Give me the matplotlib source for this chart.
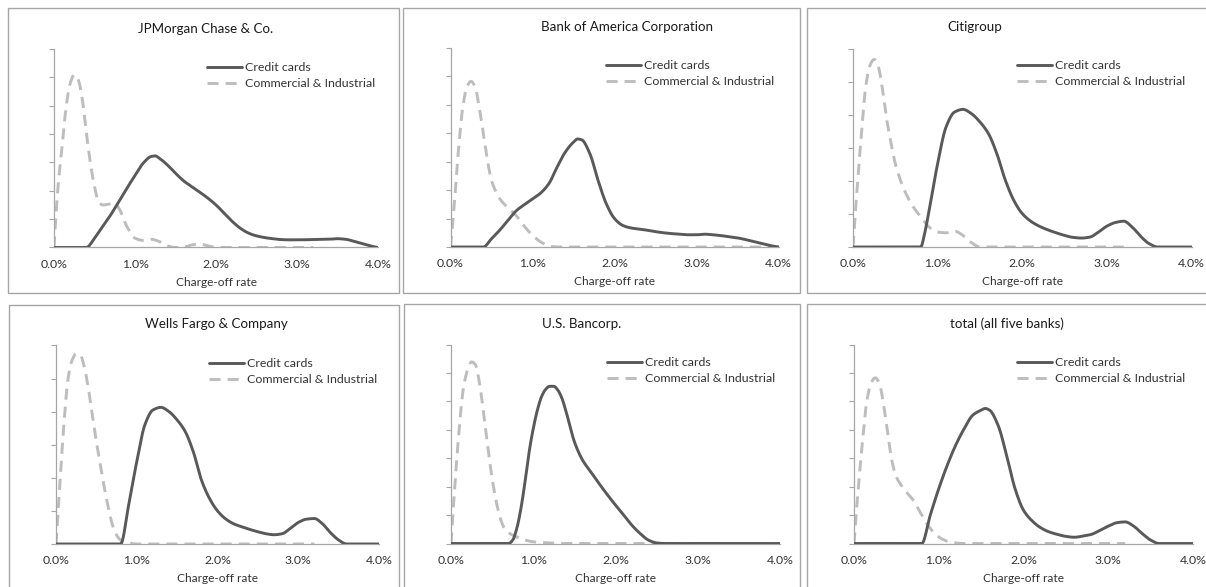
import numpy as np
import matplotlib
matplotlib.use("Agg")
import matplotlib.pyplot as plt
from matplotlib.patches import Rectangle
from matplotlib.ticker import FuncFormatter, FixedLocator

plt.rcParams['font.family'] = ['Lato', 'DejaVu Sans']

W, H = 1206, 587

titles = ["JPMorgan Chase & Co.", "Bank of America Corporation", "Citigroup",
          "Wells Fargo & Company", "U.S. Bancorp.", "total (all five banks)"]
series_labels = ["Credit cards", "Commercial & Industrial"]
x_ticks = [0.0, 1.0, 2.0, 3.0, 4.0]
x_label = "Charge-off rate"

# ---- data (x = charge-off rate in %, y = density, arbitrary units) ----
jpm_cc_x = [0.0, 0.2, 0.4, 0.5, 0.6, 0.7, 0.8, 0.9, 1.0, 1.1, 1.2, 1.25, 1.3, 1.4, 1.5, 1.6, 1.7, 1.8, 1.9, 2.0,
            2.1, 2.2, 2.3, 2.4, 2.5, 2.6, 2.7, 2.8, 2.9, 3.0, 3.2, 3.4, 3.5, 3.6, 3.7, 3.8, 3.9, 4.0]
jpm_cc_y = [0, 0, 0, 0.33, 0.74, 1.15, 1.62, 2.09, 2.54, 2.97, 3.21, 3.23, 3.15, 2.91, 2.62, 2.35, 2.15, 1.95, 1.74, 1.50,
            1.21, 0.92, 0.68, 0.51, 0.41, 0.35, 0.31, 0.28, 0.27, 0.27, 0.28, 0.29, 0.31, 0.29, 0.22, 0.14, 0.06, 0]
jpm_ci_x = [0.0, 0.05, 0.1, 0.15, 0.2, 0.25, 0.3, 0.35, 0.4, 0.45, 0.5, 0.55, 0.6, 0.7, 0.75, 0.8, 0.9, 1.0,
            1.1, 1.2, 1.3, 1.4, 1.5, 1.6, 1.7, 1.8, 1.9, 2.0, 3.2]
jpm_ci_y = [0, 2.15, 3.56, 4.97, 5.79, 6.09, 5.91, 5.21, 4.03, 2.97, 2.15, 1.62, 1.50, 1.54, 1.56, 1.39, 0.74, 0.33,
            0.25, 0.29, 0.21, 0.06, 0, 0.01, 0.09, 0.12, 0.06, 0, 0]

bac_cc_x = [0.0, 0.2, 0.4, 0.5, 0.6, 0.7, 0.8, 0.9, 1.0, 1.1, 1.2, 1.3, 1.4, 1.5, 1.55, 1.6, 1.7, 1.8, 1.9, 2.0,
            2.1, 2.2, 2.3, 2.4, 2.5, 2.6, 2.7, 2.8, 2.9, 3.0, 3.1, 3.2, 3.3, 3.4, 3.5, 3.6, 3.7, 3.8, 3.9, 4.0]
bac_cc_y = [0, 0, 0, 0.29, 0.59, 0.94, 1.27, 1.49, 1.69, 1.90, 2.23, 2.81, 3.34, 3.69, 3.80, 3.77, 3.28, 2.34, 1.52, 1.00,
            0.76, 0.67, 0.63, 0.59, 0.54, 0.50, 0.47, 0.45, 0.43, 0.43, 0.45, 0.43, 0.40, 0.36, 0.32, 0.26, 0.19, 0.12, 0.05, 0]
bac_ci_x = [0.0, 0.05, 0.1, 0.15, 0.2, 0.25, 0.3, 0.35, 0.4, 0.45, 0.5, 0.55, 0.6, 0.7, 0.8, 0.9, 1.0, 1.1, 1.2, 1.3, 4.0]
bac_ci_y = [0, 1.64, 3.52, 4.92, 5.63, 5.83, 5.63, 4.92, 3.99, 3.05, 2.34, 1.97, 1.70, 1.38, 1.11, 0.73, 0.41, 0.18, 0.04, 0, 0]

citi_cc_x = [0.0, 0.4, 0.8, 0.85, 0.9, 1.0, 1.1, 1.2, 1.3, 1.4, 1.5, 1.6, 1.7, 1.8, 1.9, 2.0, 2.1, 2.2, 2.3, 2.4,
             2.5, 2.6, 2.7, 2.8, 2.9, 3.0, 3.1, 3.2, 3.3, 3.4, 3.5, 3.6, 4.0]
citi_cc_y = [0, 0, 0, 0.45, 1.11, 2.52, 3.63, 4.08, 4.16, 4.03, 3.78, 3.43, 2.82, 2.02, 1.41, 1.01, 0.78, 0.63, 0.52, 0.43,
             0.35, 0.29, 0.27, 0.30, 0.45, 0.63, 0.74, 0.78, 0.60, 0.32, 0.10, 0, 0]
citi_ci_x = [0.0, 0.05, 0.1, 0.15, 0.2, 0.25, 0.3, 0.35, 0.4, 0.45, 0.5, 0.6, 0.7, 0.8, 0.9, 1.0, 1.1, 1.2, 1.3, 1.4, 1.5, 3.2]
citi_ci_y = [0, 1.81, 3.43, 4.84, 5.49, 5.67, 5.44, 4.74, 3.83, 3.13, 2.52, 1.76, 1.26, 0.91, 0.60, 0.45, 0.43, 0.48, 0.35, 0.13, 0, 0]

wfc_cc_x = [0.0, 0.4, 0.8, 0.9, 1.0, 1.1, 1.2, 1.3, 1.4, 1.5, 1.6, 1.7, 1.8, 1.9, 2.0, 2.1, 2.2, 2.3, 2.4,
            2.5, 2.6, 2.7, 2.8, 2.9, 3.0, 3.1, 3.2, 3.3, 3.4, 3.5, 3.6, 4.0]
wfc_cc_y = [0, 0, 0, 1.18, 2.49, 3.60, 4.05, 4.13, 4.00, 3.75, 3.40, 2.79, 1.94, 1.38, 1.00, 0.76, 0.61, 0.52, 0.44,
            0.37, 0.31, 0.28, 0.31, 0.47, 0.65, 0.75, 0.77, 0.61, 0.34, 0.12, 0, 0]
wfc_ci_x = [0.0, 0.05, 0.1, 0.15, 0.2, 0.25, 0.3, 0.35, 0.4, 0.45, 0.5, 0.55, 0.6, 0.65, 0.7, 0.75, 0.8, 0.9, 1.0, 3.2]
wfc_ci_y = [0, 1.89, 3.70, 5.01, 5.56, 5.75, 5.72, 5.36, 4.71, 3.90, 3.09, 2.39, 1.68, 1.08, 0.57, 0.27, 0.12, 0.04, 0, 0]

usb_cc_x = [0.0, 0.4, 0.7, 0.75, 0.8, 0.85, 0.9, 0.95, 1.0, 1.05, 1.1, 1.15, 1.2, 1.25, 1.3, 1.35, 1.4, 1.5, 1.6, 1.7,
            1.8, 1.9, 2.0, 2.1, 2.2, 2.3, 2.4, 2.5, 2.6, 4.0]
usb_cc_y = [0, 0, 0, 0.12, 0.53, 1.23, 2.17, 3.22, 4.04, 4.69, 5.16, 5.42, 5.53, 5.53, 5.39, 5.10, 4.63, 3.58, 2.93, 2.52,
            2.11, 1.72, 1.35, 1.00, 0.64, 0.35, 0.12, 0.02, 0, 0]
usb_ci_x = [0.0, 0.05, 0.1, 0.15, 0.2, 0.25, 0.3, 0.35, 0.4, 0.45, 0.5, 0.55, 0.6, 0.65, 0.7, 0.8, 0.9, 1.0, 1.2, 1.4, 3.2]
usb_ci_y = [0, 2.17, 4.04, 5.45, 6.10, 6.39, 6.27, 5.57, 4.51, 3.34, 2.29, 1.47, 0.88, 0.53, 0.38, 0.23, 0.12, 0.06, 0.02, 0, 0]

tot_cc_x = [0.0, 0.4, 0.8, 0.9, 1.0, 1.1, 1.2, 1.3, 1.4, 1.5, 1.55, 1.6, 1.7, 1.8, 1.9, 2.0, 2.1, 2.2, 2.3, 2.4,
            2.5, 2.6, 2.7, 2.8, 2.9, 3.0, 3.1, 3.2, 3.3, 3.4, 3.5, 3.6, 4.0]
tot_cc_y = [0, 0, 0, 1.00, 1.93, 2.75, 3.46, 4.04, 4.51, 4.69, 4.75, 4.69, 4.16, 3.11, 1.93, 1.17, 0.80, 0.56, 0.41, 0.32,
            0.25, 0.22, 0.26, 0.32, 0.46, 0.61, 0.73, 0.76, 0.61, 0.35, 0.12, 0, 0]
tot_ci_x = [0.0, 0.05, 0.1, 0.15, 0.2, 0.25, 0.3, 0.35, 0.4, 0.45, 0.5, 0.6, 0.7, 0.8, 0.9, 1.0, 1.1, 1.2, 1.3, 3.2]
tot_ci_y = [0, 1.93, 3.58, 4.98, 5.63, 5.83, 5.63, 4.87, 3.81, 2.87, 2.34, 1.88, 1.52, 1.00, 0.53, 0.23, 0.08, 0.02, 0, 0]

y_max = [7, 7, 6, 6, 7, 7]

panels = [
    (jpm_cc_x, jpm_cc_y, jpm_ci_x, jpm_ci_y),
    (bac_cc_x, bac_cc_y, bac_ci_x, bac_ci_y),
    (citi_cc_x, citi_cc_y, citi_ci_x, citi_ci_y),
    (wfc_cc_x, wfc_cc_y, wfc_ci_x, wfc_ci_y),
    (usb_cc_x, usb_cc_y, usb_ci_x, usb_ci_y),
    (tot_cc_x, tot_cc_y, tot_ci_x, tot_ci_y),
]

# ---- layout (pixels) ----
axes_px = [  # x0, x4, baseline, top
    (54, 378, 247.5, 49),
    (450.5, 778.5, 247, 48),
    (853, 1191.5, 247, 48.5),
    (56, 379, 544, 345.5),
    (451, 780, 543.5, 344.5),
    (854, 1193, 543.5, 344.5),
]
frames_px = [(8, 8, 399, 293), (403, 8, 800, 293), (807, 8, 1212, 293),
             (9, 305, 399, 595), (404, 304, 800, 595), (807, 304, 1212, 595)]
title_px = [(206, 29), (627, 27), (975, 27), (216, 324), (582, 324), (1007, 324)]
legend_px = [(207, 62), (606, 60), (1017, 60), (209, 358), (607, 357), (1017, 357)]

CC_COLOR = '#595959'
CI_COLOR = '#BDBDBD'
TXT = '#333333'
AX_COLOR = '#A6A6A6'


def smooth(x, y, n=400):
    """Monotone cubic (PCHIP) rendering of a smoothed line through the given points."""
    x = np.asarray(x, float)
    y = np.asarray(y, float)
    h = np.diff(x)
    d = np.diff(y) / h
    m = np.zeros_like(x)
    for k in range(1, len(x) - 1):
        if d[k - 1] * d[k] > 0:
            w1 = 2 * h[k] + h[k - 1]
            w2 = h[k] + 2 * h[k - 1]
            m[k] = (w1 + w2) / (w1 / d[k - 1] + w2 / d[k])
    if len(x) > 2:
        m0 = ((2 * h[0] + h[1]) * d[0] - h[0] * d[1]) / (h[0] + h[1])
        m[0] = m0 if np.sign(m0) == np.sign(d[0]) else 0.0
        mn = ((2 * h[-1] + h[-2]) * d[-1] - h[-1] * d[-2]) / (h[-1] + h[-2])
        m[-1] = mn if np.sign(mn) == np.sign(d[-1]) else 0.0
    xs = np.linspace(x[0], x[-1], n)
    idx = np.clip(np.searchsorted(x, xs, side='right') - 1, 0, len(x) - 2)
    t = (xs - x[idx]) / h[idx]
    h00 = 2 * t**3 - 3 * t**2 + 1
    h10 = t**3 - 2 * t**2 + t
    h01 = -2 * t**3 + 3 * t**2
    h11 = t**3 - t**2
    ys = h00 * y[idx] + h10 * h[idx] * m[idx] + h01 * y[idx + 1] + h11 * h[idx] * m[idx + 1]
    return xs, ys


fig = plt.figure(figsize=(W / 100, H / 100), dpi=100)
fig.patch.set_facecolor('white')


def fx(px):
    return px / W


def fy(py):
    return 1 - py / H


for i, (cx, cy, ix, iy) in enumerate(panels):
    l, r, t, b = frames_px[i][0], frames_px[i][2], frames_px[i][1], frames_px[i][3]
    fig.add_artist(Rectangle((fx(l), fy(b)), fx(r) - fx(l), fy(t) - fy(b), transform=fig.transFigure,
                             fill=False, edgecolor=AX_COLOR, lw=1.0))

    x0, x4, base, top = axes_px[i]
    ax = fig.add_axes([fx(x0), fy(base), fx(x4) - fx(x0), fy(top) - fy(base)])
    ax.set_facecolor('none')

    sx, sy = smooth(cx, cy)
    l1, = ax.plot(sx, sy, color=CC_COLOR, lw=2.1, solid_capstyle='round', zorder=3)
    sx, sy = smooth(ix, iy)
    l2, = ax.plot(sx, sy, color=CI_COLOR, lw=2.1, zorder=2)
    l2.set_dashes((3.8, 2.4))

    ax.set_xlim(0, 4.0)
    ax.set_ylim(0, y_max[i])
    for s in ['top', 'right']:
        ax.spines[s].set_visible(False)
    for s in ['left', 'bottom']:
        ax.spines[s].set_color(AX_COLOR)
        ax.spines[s].set_linewidth(0.9)
    ax.xaxis.set_major_locator(FixedLocator(x_ticks))
    ax.xaxis.set_major_formatter(FuncFormatter(lambda v, p: f"{v:.1f}%"))
    ax.yaxis.set_major_locator(FixedLocator(list(range(0, y_max[i] + 1))))
    ax.set_yticklabels([])
    ax.tick_params(axis='x', length=0, pad=8, labelsize=8.8, labelcolor=TXT)
    ax.tick_params(axis='y', length=3.5, width=0.8, color=AX_COLOR, direction='out')

    fig.text(fx((x0 + x4) / 2), fy(base + 35), x_label, ha='center', va='center', fontsize=8.6, color=TXT)
    fig.text(fx(title_px[i][0]), fy(title_px[i][1]), titles[i], ha='center', va='center', fontsize=9.6, color='#1a1a1a')

    lx, ly = legend_px[i]
    ax.legend([l1, l2], series_labels, loc='upper left', bbox_to_anchor=(fx(lx), fy(ly)),
              bbox_transform=fig.transFigure, frameon=False, borderpad=0, borderaxespad=0,
              handlelength=2.8, handletextpad=0.25, labelspacing=0.4, fontsize=8.9, labelcolor=TXT)

fig.savefig('out.png', dpi=100, facecolor='white')
